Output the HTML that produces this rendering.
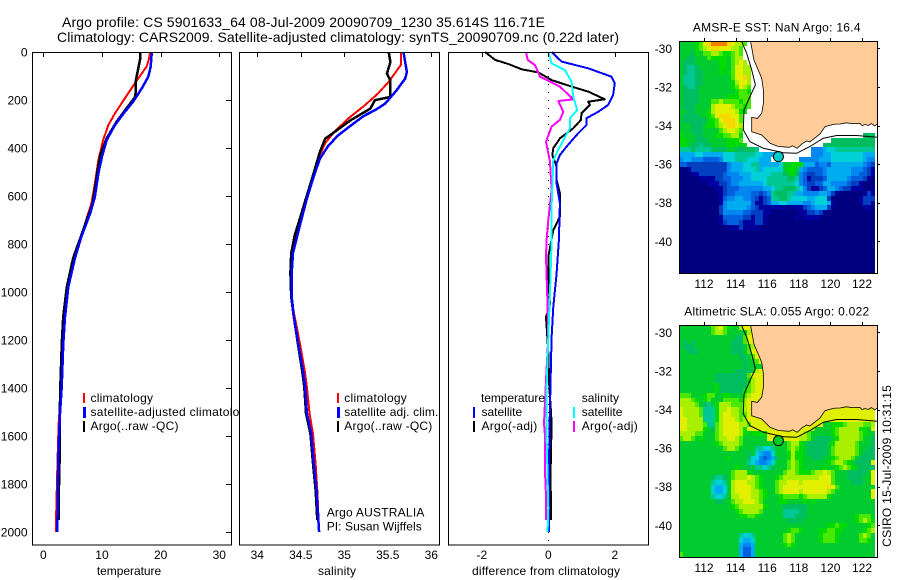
<!DOCTYPE html>
<html lang="en">
<head>
<meta charset="utf-8">
<title>Argo profile CS 5901633_64</title>
<style>
html,body{margin:0;padding:0;background:#fff;}
svg{display:block;}
text{font-family:"Liberation Sans",sans-serif;font-size:12px;fill:#000;}
.ttl{font-size:14px;}
.mt{font-size:12px;}
</style>
</head>
<body>
<svg id="fig" xmlns="http://www.w3.org/2000/svg" width="900" height="580" viewBox="0 0 900 580">
  <rect x="0" y="0" width="900" height="580" fill="#fff"/>
  <text class="ttl" x="62" y="27" textLength="483" lengthAdjust="spacing">Argo profile: CS 5901633_64 08-Jul-2009 20090709_1230 35.614S 116.71E</text>
  <text class="ttl" x="57" y="42" textLength="562" lengthAdjust="spacing">Climatology: CARS2009. Satellite-adjusted climatology: synTS_20090709.nc (0.22d later)</text>

  <g id="p1"></g>
  <g id="p1legend">
    <rect x="83" y="393" width="2" height="10" fill="#f00"/>
    <rect x="83" y="407" width="3" height="11" fill="#00f"/>
    <rect x="83" y="421" width="2" height="11" fill="#000"/>
    <text x="90.5" y="402" textLength="62.5">climatology</text>
    <text x="90.5" y="416" letter-spacing="0.3">satellite-adjusted climatology</text>
    <text x="90.5" y="430" textLength="88">Argo(..raw -QC)</text>
  </g>

  <g id="p2"></g>
  <g id="p2legend">
    <rect x="337" y="393" width="2" height="10" fill="#f00"/>
    <rect x="337" y="407" width="3" height="11" fill="#00f"/>
    <rect x="337" y="421" width="2" height="11" fill="#000"/>
    <text x="344.3" y="402" textLength="62.5">climatology</text>
    <text x="344.3" y="416" textLength="94">satellite adj. clim.</text>
    <text x="344.3" y="430" textLength="88">Argo(..raw -QC)</text>
    <text x="326.7" y="516.5" textLength="97.7">Argo AUSTRALIA</text>
    <text x="326.7" y="530.5" textLength="95">PI: Susan Wijffels</text>
  </g>

  <g id="p3"></g>
  <g id="p3legend">
    <text x="481" y="402" textLength="64">temperature</text>
    <rect x="473" y="407" width="2" height="11" fill="#00f"/>
    <rect x="473" y="421" width="2" height="11" fill="#000"/>
    <text x="481.5" y="416" textLength="40.7">satellite</text>
    <text x="481.5" y="430" textLength="55.7">Argo(-adj)</text>
    <text x="581.7" y="402" textLength="37.3">salinity</text>
    <rect x="573" y="407" width="2" height="11" fill="#0ff"/>
    <rect x="573" y="421" width="2" height="11" fill="#f0f"/>
    <text x="581.7" y="416" textLength="40.7">satellite</text>
    <text x="581.7" y="430" textLength="56">Argo(-adj)</text>
  </g>

  <text x="129" y="575" text-anchor="middle" textLength="64.3">temperature</text>
  <text x="337" y="575" text-anchor="middle" textLength="38">salinity</text>
  <text x="546" y="575" text-anchor="middle" textLength="148">difference from climatology</text>

  <g id="m1"></g>
  <g id="m2"></g>
  <text class="mt" x="776.7" y="31.5" text-anchor="middle" textLength="167.7">AMSR-E SST: NaN Argo: 16.4</text>
  <text class="mt" x="776.7" y="315.5" text-anchor="middle" textLength="185">Altimetric SLA: 0.055 Argo: 0.022</text>
  <text x="891" y="466" text-anchor="middle" textLength="161.7" transform="rotate(-90 891 466)">CSIRO 15-Jul-2009 10:31:15</text>
</svg>
<script>
/* ---------- profile data ---------- */
const depthTicks = [0,200,400,600,800,1000,1200,1400,1600,1800,2000];
const tempTicks = [0,10,20,30];
const salTicks = [34,34.5,35,35.5,36];
const salTickLabels = ['34','34.5','35','35.5','36'];
const diffTicks = [-2,0,2];

const tempClimDepth = [0,30,61,131,193,256,304,367,450,547,631,700,776,860,980,1104,1213,1396,1550,1720,1920,2000];
const tempClimValues = [18.2,18.0,17.6,15.6,13.9,12.2,11.1,10.2,9.4,8.8,8.2,7.3,6.4,5.3,4.2,3.6,3.35,3.05,2.6,2.4,2.2,2.2];
const tempSatDepth = [0,61,103,151,207,249,304,367,436,505,603,672,769,858,979,1104,1213,1396,1507,1645,1825,2000];
const tempSatValues = [18.5,18.3,17.9,16.8,15.3,13.9,12.2,10.8,10.0,9.4,8.8,8.0,6.5,5.4,4.26,3.7,3.41,3.13,2.85,2.6,2.45,2.4];
const tempArgoDepth = [0,30,68,115,186,234,290,360,430,520,631,700,776,858,979,1104,1213,1396,1520,1680,1880,1950];
const tempArgoValues = [16.5,16.5,16.2,15.8,15.7,14.2,12.5,10.8,9.7,9.1,8.4,7.4,6.3,5.1,4.0,3.4,3.15,2.9,2.8,2.8,2.6,2.6];

const salClimDepth = [0,54,124,172,221,276,331,380,443,561,644,742,838,921,1018,1104,1213,1338,1396,1505,1590,1715,1825,2000];
const salClimValues = [35.65,35.65,35.51,35.39,35.24,35.05,34.89,34.78,34.70,34.61,34.53,34.46,34.41,34.39,34.39,34.43,34.49,34.55,34.57,34.60,34.64,34.67,34.69,34.71];
const salSatDepth = [0,42,83,111,160,215,243,267,308,347,389,444,528,611,722,838,921,1018,1104,1213,1338,1396,1505,1590,1715,1825,2000];
const salSatValues = [35.68,35.70,35.72,35.70,35.60,35.47,35.35,35.22,35.07,34.93,34.82,34.72,34.64,34.57,34.49,34.41,34.395,34.395,34.42,34.47,34.53,34.55,34.57,34.62,34.65,34.68,34.71];
const salArgoDepth = [0,42,90,118,187,201,236,257,285,333,361,416,514,597,694,764,838,921,1018,1104,1213,1338,1396,1505,1590,1715,1825,1950];
const salArgoValues = [35.51,35.53,35.49,35.53,35.53,35.35,35.30,35.20,35.07,34.89,34.78,34.72,34.64,34.57,34.49,34.43,34.39,34.38,34.39,34.42,34.465,34.52,34.54,34.56,34.61,34.64,34.67,34.69];

const diffTempArgoDepth = [0,33,50,72,85,117,144,165,197,207,221,256,283,318,360,401,429,478,533,589,686,742,853,950,1050,1104,1250,1396,1500,1547,1750,1950];
const diffTempArgoValues = [-1.9,-1.6,-1.2,-0.8,-0.3,0.1,0.7,1.2,1.7,1.2,1.25,1.0,0.98,0.75,0.35,0.15,0.12,0.25,0.25,0.35,0.35,0.15,0,0,0.05,-0.07,0,0.03,0.08,0.1,0.07,0.08];
const diffTempSatDepth = [0,40,68,103,130,179,221,249,276,304,346,394,429,464,547,630,783,922,1062,1188,1367,1600,2000];
const diffTempSatValues = [0.1,0.4,1.2,1.9,2.0,1.95,1.8,1.5,1.15,1.15,0.85,0.55,0.35,0.25,0.25,0.35,0.32,0.25,0.15,0.1,0.07,0.03,0.02];
const diffSalSatDepth = [0,47,75,124,186,242,276,318,394,450,644,783,1000,1188,1400,1600,1900,2000];
const diffSalSatValues = [0,0.1,0.5,0.7,0.75,0.87,0.65,0.65,0.35,0.15,0.1,0.1,0.05,0,-0.05,-0.05,0,-0.02];
const diffSalArgoDepth = [0,33,54,103,144,197,204,249,283,311,374,457,575,700,783,853,1062,1188,1367,1547,1600,1750,1850,1950];
const diffSalArgoValues = [-0.67,-0.62,-0.4,-0.25,0.35,0.75,0.3,0.45,0.35,0.1,-0.07,0.05,0.1,0,-0.05,-0.07,-0.02,0,-0.07,-0.13,-0.1,-0.1,-0.07,-0.07];

/* ---------- map data ---------- */
const lonTicks = [112,114,116,118,120,122];
const latTicks = [-30,-32,-34,-36,-38,-40];
const floatLon = 116.71;
const floatLat = -35.614;
const landLon = [114.95,115.16,115.65,115.76,115.76,115.65,115.38,115.02,115.02,115.65,116.18,116.7,117.4,117.6,117.9,118.2,118.5,118.7,119.34,119.66,120.0,120.3,120.61,121.0,121.4,121.87,122.0,122.2,122.4,122.6,122.8,122.97];
const landLat = [-29.64,-30.6,-31.55,-32.16,-32.85,-33.37,-33.63,-33.58,-34.32,-34.49,-34.92,-35.09,-35.13,-35.05,-35.18,-34.95,-34.8,-34.85,-34.44,-34.06,-33.98,-33.93,-33.92,-33.86,-33.9,-33.89,-34.0,-33.95,-34.0,-33.9,-34.02,-33.93];
const contourLon = [114.38,114.7,115.02,115.25,114.91,114.53,114.49,114.91,115.76,117.02,117.86,118.71,119.55,120.4,121.66,122.97];
const contourLat = [-29.64,-30.26,-31.12,-31.9,-32.5,-33.2,-34.23,-34.84,-35.18,-35.41,-35.44,-35.09,-34.66,-34.52,-34.52,-34.61];
const colourScale = ['#000080','#00009e','#0040c0','#0060e0','#0088f0','#00acf0','#00d0d8','#00c894','#00be60','#00cc30','#00dc00','#48e800','#a8f000','#e0f000','#f8d800','#f08000'];
const sstRows = [
"9999abdeffffedccb","9999abcdeedddccb","9998a9bbccbaabcb","9988999baaaa9bcc","9888999999aa9bcdc","9877899999aa9bddcc",
"9877889999a9abddcc","9777889999999bddec","9777889999999acddc","9877899999999abdcb","98888999999999abba","988889999999aaabbb",
"98888999bbcbbbbabb","98889999cddddcbbab","9988999acdddddcaa","9888899abdeeeddb","9888888aabdeeedb","9998889aabcdeedc",
"9998889999bcddcb","a99988999aabbcca..............................888","aa9988899999aaab......................88888888888",
"aa9887889999aaa9a...................8888888888888","77787777888899888887.............4445667777777777",
"555566555556667777766555.........4445566666666555","45544433334666777666555.......4444455566666666544",
"3322222222224555667755555699aaa55534435555555543210","001222222222455566675666669aa95433334555555444321100",
"0001122222234445556666677789a84322334555555443321","0000011112233444556666777778874312223555554333210",
"0000000111223445555556777777764322335544443221000","0000000001123334444445567788876421123554322111001",
"0000000000123344443323478887755444455421000000121","0000000000134455443212377887666655666200000001222",
"0000000000145555553112355665555445666510000001221","0000000000245555543211111110111234555200000000110",
"0000000000244444332221100000001122321000000000000000","00000000001333332212210000000101111000000000000000",
"00000000001233321112210000000000000000000000000000","0000000000001112111100000000000000000000000000000000",
"0000000000000000000000000000000000000000000000000000","0000000000000000000000000000000000000000000000000000",
"0000000000000000000000000000000000000000000000000000","0000000000000000000000000000000000000000000000000000",
"0000000000000000000000000000000000000000000000000000","0000000000000000000000000000000000000000000000000000",
"0000000000000000000000000000000000000000000000000000","0000000000000000000000000000000000000000000000000000",
"0000000000000000000000000000000000000000000000000000"];
const slaRows = [
"99999999bcdba99cd","99999999bccb99999cd","9999999999999988bd","9898999999999888bd","98889999999998889bcd","99888999999998889bd",
"999999999999999889bd","9999999999999999899bd","999999999999999989999cd","9999999999999988889cd","99999999988888888bd","99999999988888888acd",
"999999999a8888888bcd","999999999a888888abcd","bbb999abb99aa999bcd","cccba9ab999bbbbacd","ccccb9879acccbbbcd","dccccb777accdccbcd",
"dccccb777acddccbbd","ddcccc777acdddcbcd","ddccccb77bcddddccbdddddddddddddddddd99aaabccccbbc",
"ddcccca98bcddddcaddddddddddddddddc9999abcccccaa9","ccccbb999bcddddca9aaaadddddddddcb99999abcccccba99",
"bccb9a999bccddcb999999ddddddddccb988889acccccb998","999999999abccccb99999999999bcca9888889acccccb9998",
"99999999999bccb999977667999bcba9888889bcccccb9988","999999999999999998965446999acaa9888889bcccccb9888",
"999999999999a9999866434589 9acaa9988899abcccb98888".replace(' ',''),"99999999999999999765445699 9bcba999999abccba98888".replace(' ',''),
"99999999999999a998977678999bcba99999a99abcba98888","9999999999999bccca99999999bccbaaabccdcb999888889",
"9999999987789bcccdcba999abcccccccccdddb999888899","9999999976679cdddccba999bccdddcdddddddb999988899",
"9999999965569cddddcba999bcdddddddddddedb999999999","9999999965569cddddccba99bcddddcddddddcb999999999",
"9999999976679ccdddccba999abbbbabccccca9999999999","9999999998899bccdddcb9999aa9999a9a999999999999999",
"9999999999999abcccccca999988888899999999999999999","99999999999999abccccb999997777889999999999999999999",
"999999999999999aabba999999777888999999999999abbb999","99999999999999999999999999988889999999999999abcba99",
"9999999999999999999999999999999999999aabaa99999abcb999","999999999999999999999999999abba9999aabbaa99999abcb9999",
"99999999999999976679999999bcb999999abbba99999bcb99999","99999999999999965569999999bcb999999abbba99999bba99999",
"99999999999999954459999999aba9999999999999999999999","99999999999999953359999999999999999999999999999999999",
"b9999999999999953359999999999999999999999999999999999"];

/* ---------- helpers ---------- */
const NS = 'http://www.w3.org/2000/svg';
function mk(tag, attrs, parent){
  const el = document.createElementNS(NS, tag);
  for (const k in attrs) el.setAttribute(k, attrs[k]);
  parent.appendChild(el);
  return el;
}
const yDepth = d => 52 + 0.24 * d;
const xTemp = v => 43.3 + 5.867 * v;
const xSal = v => 257.3 + 87 * (v - 34);
const xDiff = v => 548.3 + 33.25 * v;

function series(parent, depths, values, xf, colour, width, name){
  const pts = values.map((v, i) => xf(v).toFixed(1) + ',' + yDepth(depths[i]).toFixed(1)).join(' ');
  const el = mk('polyline', {points: pts, fill: 'none', stroke: colour, 'stroke-width': width, 'shape-rendering': 'crispEdges', 'stroke-linejoin': 'round'}, parent);
  
  
}
function panelFrame(parent, x, w){
  const bg = mk('rect', {x: x, y: 52.5, width: w, height: 492.5, fill: '#fff'}, parent);
  
  
}
function panelBorder(parent, x, w){
  const b = mk('rect', {x: x, y: 52.5, width: w, height: 492.5, fill: 'none', stroke: '#000', 'stroke-width': 1, 'shape-rendering': 'crispEdges'}, parent);
  
  
}
function topTicks(parent, ticks, labels, xf){
  ticks.forEach((t, i) => {
    const x = Math.round(xf(t)) + 0.5;
    const tk = mk('line', {x1: x, x2: x, y1: 52, y2: 57, stroke: '#000', 'shape-rendering': 'crispEdges'}, parent);
    
    
    const lb = mk('text', {x: xf(t), y: 559, 'text-anchor': 'middle'}, parent);
    lb.textContent = labels[i];
    
    
  });
}

/* ---------- panel 1: temperature ---------- */
const p1 = document.getElementById('p1');
panelFrame(p1, 32.5, 199);
series(p1, tempClimDepth, tempClimValues, xTemp, '#f00', 2, 'temperature-climatology-line');
series(p1, tempArgoDepth, tempArgoValues, xTemp, '#000', 2.5, 'temperature-argo-line');
series(p1, tempSatDepth, tempSatValues, xTemp, '#00f', 2.5, 'temperature-satellite-line');
panelBorder(p1, 32.5, 199);
topTicks(p1, tempTicks, tempTicks.map(String), xTemp);
depthTicks.forEach(d => {
  const y = Math.round(yDepth(d)) + 0.5;
  const tk = mk('line', {x1: 226, x2: 231, y1: y, y2: y, stroke: '#000', 'shape-rendering': 'crispEdges'}, p1);
  
  
  const lb = mk('text', {x: 27.5, y: yDepth(d) + 4.5, 'text-anchor': 'end'}, p1);
  lb.textContent = String(d);
  
  
});

/* ---------- panel 2: salinity ---------- */
const p2 = document.getElementById('p2');
const p2legendFirst = document.getElementById('p1legend');
p2.parentNode.insertBefore(p2legendFirst, p2);
panelFrame(p2, 239.5, 200);
series(p2, salClimDepth, salClimValues, xSal, '#f00', 2, 'salinity-climatology-line');
series(p2, salArgoDepth, salArgoValues, xSal, '#000', 2.5, 'salinity-argo-line');
series(p2, salSatDepth, salSatValues, xSal, '#00f', 2.5, 'salinity-satellite-line');
panelBorder(p2, 239.5, 200);
topTicks(p2, salTicks, salTickLabels, xSal);

/* ---------- panel 3: differences ---------- */
const p3 = document.getElementById('p3');
panelFrame(p3, 448.5, 200);
const zero = mk('line', {x1: xDiff(0), x2: xDiff(0), y1: 52, y2: 545, stroke: '#000', 'stroke-dasharray': '1 7', 'shape-rendering': 'crispEdges'}, p3);


series(p3, diffTempArgoDepth, diffTempArgoValues, xDiff, '#000', 2, 'difference-temp-argo-line');
series(p3, diffTempSatDepth, diffTempSatValues, xDiff, '#00f', 2, 'difference-temp-satellite-line');
series(p3, diffSalArgoDepth, diffSalArgoValues, xDiff, '#f0f', 2, 'difference-sal-argo-line');
series(p3, diffSalSatDepth, diffSalSatValues, xDiff, '#0ff', 2, 'difference-sal-satellite-line');
panelBorder(p3, 448.5, 200);
topTicks(p3, diffTicks, diffTicks.map(String), xDiff);

/* ---------- maps ---------- */
function drawMap(parent, rows, fill, top, bottom, lat30y, markerColour, label){
  const left = 679, right = 877;
  const xLon = lon => 704 + 15.8 * (lon - 112);
  const yLat = lat => lat30y + 19.3 * (-30 - lat);
  const cols = 49, nRows = 48;
  const cw = 4, rh = (bottom - top) / nRows;
  const bg = mk('rect', {x: left, y: top, width: right - left, height: bottom - top, fill: '#fff'}, parent);
  
  
  rows.forEach((row, r) => {
    const y0 = Math.round(top + r * rh), y1 = Math.round(top + (r + 1) * rh);
    for (let c = 0; c < cols; c++) {
      const ch = row[c] || fill;
      if (ch === '.') continue;
      const cell = mk('rect', {x: left + c * cw, y: y0, width: cw, height: y1 - y0, fill: colourScale[parseInt(ch, 16)], 'shape-rendering': 'crispEdges'}, parent);
      
      
    }
  });
  const coast = landLon.map((v, i) => xLon(v).toFixed(1) + ',' + yLat(landLat[i]).toFixed(1));
  const land = mk('polygon', {points: coast.concat([right + ',' + yLat(landLat[landLat.length - 1]).toFixed(1), right + ',' + top, coast[0].split(',')[0] + ',' + top]).join(' '), fill: '#ffcc99'}, parent);
  
  
  const coastLine = mk('polyline', {points: coast.join(' '), fill: 'none', stroke: '#000', 'stroke-width': 0.8}, parent);
  
  
  const contour = mk('polyline', {points: contourLon.map((v, i) => xLon(v).toFixed(1) + ',' + yLat(contourLat[i]).toFixed(1)).join(' '), fill: 'none', stroke: '#000', 'stroke-width': 1}, parent);
  
  
  const marker = mk('circle', {cx: xLon(floatLon), cy: yLat(floatLat), r: 5, fill: markerColour, stroke: '#000', 'stroke-width': 1}, parent);
  
  
  const frame = mk('rect', {x: left + 0.5, y: top + 0.5, width: right - left, height: bottom - top, fill: 'none', stroke: '#000', 'shape-rendering': 'crispEdges'}, parent);
  
  
  lonTicks.forEach(t => {
    const x = Math.round(xLon(t)) + 0.5;
    const tk = mk('line', {x1: x, x2: x, y1: top - 3, y2: top, stroke: '#000', 'shape-rendering': 'crispEdges'}, parent);
    
    
    const lb = mk('text', {x: xLon(t), y: bottom + 15, 'text-anchor': 'middle'}, parent);
    lb.textContent = String(t);
    
    
  });
  latTicks.forEach(t => {
    const y = Math.round(yLat(t)) + 0.5;
    const tk = mk('line', {x1: right, x2: right + 3, y1: y, y2: y, stroke: '#000', 'shape-rendering': 'crispEdges'}, parent);
    
    
    const lb = mk('text', {x: 672, y: yLat(t) + 4.5, 'text-anchor': 'end'}, parent);
    lb.textContent = String(t);
    
    
  });
}
drawMap(document.getElementById('m1'), sstRows, '.', 41, 273, 48.3, '#00ccc8', 'sst-map');
drawMap(document.getElementById('m2'), slaRows, 'd', 325, 557, 332.3, '#00cc20', 'sla-map');
</script>
</body>
</html>
